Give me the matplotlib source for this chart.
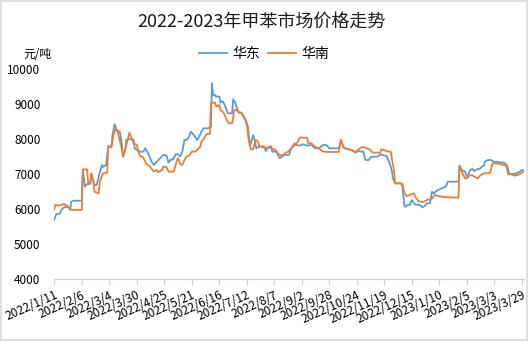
import matplotlib
matplotlib.use("Agg")
import matplotlib.pyplot as plt
import pandas as pd
from matplotlib.patches import Rectangle

plt.rcParams['font.family'] = ['Noto Sans CJK SC', 'DejaVu Sans']

title = "2022-2023年甲苯市场价格走势"
unit = "元/吨"
series_names = ["华东", "华南"]
colors = ["#5B9BD5", "#ED7D31"]

# 华东 (East China) prices, yuan/ton
east_dates = [
    "2022-01-11", "2022-01-13", "2022-01-16", "2022-01-18", "2022-01-21", "2022-01-24",
    "2022-01-26", "2022-01-27", "2022-01-29", "2022-02-06", "2022-02-07", "2022-02-09",
    "2022-02-11", "2022-02-14", "2022-02-15", "2022-02-18", "2022-02-20", "2022-02-22",
    "2022-02-25", "2022-02-26", "2022-03-01", "2022-03-03", "2022-03-06", "2022-03-07",
    "2022-03-09", "2022-03-11", "2022-03-14", "2022-03-16", "2022-03-17", "2022-03-19",
    "2022-03-20", "2022-03-25", "2022-03-27", "2022-03-28", "2022-03-30", "2022-04-02",
    "2022-04-05", "2022-04-07", "2022-04-10", "2022-04-13", "2022-04-15", "2022-04-18",
    "2022-04-21", "2022-04-24", "2022-04-27", "2022-04-29", "2022-05-01", "2022-05-03",
    "2022-05-06", "2022-05-08", "2022-05-10", "2022-05-12", "2022-05-14", "2022-05-16",
    "2022-05-18", "2022-05-20", "2022-05-23", "2022-05-26", "2022-05-28", "2022-05-30",
    "2022-06-01", "2022-06-05", "2022-06-08", "2022-06-09", "2022-06-10", "2022-06-12",
    "2022-06-13", "2022-06-16", "2022-06-17", "2022-06-19", "2022-06-21", "2022-06-24",
    "2022-06-28", "2022-06-29", "2022-07-01", "2022-07-02", "2022-07-04", "2022-07-07",
    "2022-07-09", "2022-07-11", "2022-07-13", "2022-07-15", "2022-07-18", "2022-07-21",
    "2022-07-24", "2022-07-26", "2022-07-28", "2022-07-30", "2022-08-01", "2022-08-04",
    "2022-08-05", "2022-08-09", "2022-08-10", "2022-08-12", "2022-08-14", "2022-08-16",
    "2022-08-19", "2022-08-21", "2022-08-23", "2022-08-26", "2022-08-28", "2022-08-31",
    "2022-09-03", "2022-09-06", "2022-09-08", "2022-09-11", "2022-09-14", "2022-09-18",
    "2022-09-22", "2022-09-25", "2022-09-28", "2022-10-07", "2022-10-09", "2022-10-11",
    "2022-10-12", "2022-10-17", "2022-10-19", "2022-10-23", "2022-10-25", "2022-10-28",
    "2022-10-30", "2022-11-01", "2022-11-04", "2022-11-06", "2022-11-09", "2022-11-13",
    "2022-11-15", "2022-11-17", "2022-11-21", "2022-11-24", "2022-11-26", "2022-11-27",
    "2022-11-29", "2022-12-05", "2022-12-06", "2022-12-08", "2022-12-09", "2022-12-10",
    "2022-12-13", "2022-12-15", "2022-12-17", "2022-12-19", "2022-12-21", "2022-12-23",
    "2022-12-25", "2022-12-28", "2022-12-29", "2023-01-01", "2023-01-03", "2023-01-05",
    "2023-01-06", "2023-01-09", "2023-01-12", "2023-01-16", "2023-01-18", "2023-01-28",
    "2023-01-29", "2023-01-31", "2023-02-03", "2023-02-05", "2023-02-06", "2023-02-08",
    "2023-02-10", "2023-02-12", "2023-02-15", "2023-02-17", "2023-02-19", "2023-02-21",
    "2023-02-22", "2023-02-25", "2023-02-28", "2023-03-02", "2023-03-05", "2023-03-08",
    "2023-03-11", "2023-03-13", "2023-03-15", "2023-03-17", "2023-03-21", "2023-03-24",
    "2023-03-27", "2023-03-29", "2023-03-31",
]
east_prices = [
    5706, 5860, 5860, 5990, 6060, 6060,
    5970, 6210, 6237, 6237, 7114, 6640,
    6714, 6714, 7000, 6686, 6686, 6923,
    7257, 7200, 7257, 7800, 7770, 8114,
    8420, 8257, 8200, 7830, 7494, 7686,
    7971, 8000, 7970, 7734, 7690, 7637,
    7637, 7734, 7571, 7351, 7257, 7351,
    7448, 7543, 7530, 7323, 7410, 7410,
    7570, 7560, 7500, 7637, 7971, 7971,
    8048, 8210, 8114, 7971, 8067, 8210,
    8305, 8305, 8330, 9591, 9257, 9257,
    9210, 9210, 9037, 9086, 8971, 8733,
    8733, 9133, 9037, 8943, 8752, 8752,
    8638, 8543, 8352, 7800, 8114, 7734,
    7790, 7790, 7790, 7657, 7760, 7790,
    7638, 7638, 7562, 7448, 7490, 7543,
    7543, 7550, 7734, 7876, 7830, 7810,
    7850, 7820, 7810, 7840, 7734, 7734,
    7829, 7829, 7734, 7734, 7971, 7780,
    7734, 7700, 7686, 7610, 7660, 7640,
    7640, 7400, 7400, 7476, 7494, 7500,
    7562, 7543, 7514, 7305, 7095, 6877,
    6733, 6733, 6637, 6066, 6066, 6114,
    6114, 6257, 6162, 6114, 6130, 6100,
    6048, 6114, 6162, 6162, 6494, 6440,
    6494, 6543, 6590, 6637, 6780, 6780,
    7238, 7114, 7067, 6923, 6971, 7114,
    7143, 7086, 7143, 7143, 7210, 7238,
    7352, 7400, 7400, 7350, 7350, 7330,
    7330, 7305, 7238, 7000, 7000, 7020,
    7067, 7114, 7090,
]

# 华南 (South China) prices, yuan/ton
south_dates = [
    "2022-01-11", "2022-01-12", "2022-01-16", "2022-01-20", "2022-01-23", "2022-01-26",
    "2022-01-29", "2022-02-06", "2022-02-07", "2022-02-11", "2022-02-12", "2022-02-14",
    "2022-02-15", "2022-02-17", "2022-02-18", "2022-02-22", "2022-02-23", "2022-02-26",
    "2022-03-02", "2022-03-03", "2022-03-06", "2022-03-08", "2022-03-10", "2022-03-12",
    "2022-03-15", "2022-03-17", "2022-03-19", "2022-03-23", "2022-03-25", "2022-03-27",
    "2022-03-30", "2022-03-31", "2022-04-02", "2022-04-05", "2022-04-08", "2022-04-11",
    "2022-04-15", "2022-04-18", "2022-04-19", "2022-04-23", "2022-04-24", "2022-04-27",
    "2022-04-29", "2022-05-04", "2022-05-07", "2022-05-08", "2022-05-10", "2022-05-12",
    "2022-05-14", "2022-05-16", "2022-05-19", "2022-05-21", "2022-05-24", "2022-05-26",
    "2022-05-29", "2022-05-30", "2022-06-01", "2022-06-04", "2022-06-07", "2022-06-08",
    "2022-06-09", "2022-06-12", "2022-06-13", "2022-06-16", "2022-06-17", "2022-06-20",
    "2022-06-21", "2022-06-23", "2022-06-25", "2022-06-28", "2022-06-29", "2022-06-30",
    "2022-07-02", "2022-07-04", "2022-07-07", "2022-07-09", "2022-07-11", "2022-07-12",
    "2022-07-14", "2022-07-16", "2022-07-18", "2022-07-20", "2022-07-22", "2022-07-24",
    "2022-07-27", "2022-07-29", "2022-08-01", "2022-08-04", "2022-08-08", "2022-08-11",
    "2022-08-14", "2022-08-17", "2022-08-20", "2022-08-23", "2022-08-25", "2022-08-28",
    "2022-08-31", "2022-09-07", "2022-09-08", "2022-09-11", "2022-09-14", "2022-09-18",
    "2022-09-22", "2022-09-26", "2022-10-07", "2022-10-09", "2022-10-11", "2022-10-14",
    "2022-10-18", "2022-10-20", "2022-10-22", "2022-10-25", "2022-10-28", "2022-11-01",
    "2022-11-02", "2022-11-05", "2022-11-08", "2022-11-15", "2022-11-16", "2022-11-20",
    "2022-11-23", "2022-11-25", "2022-11-26", "2022-11-28", "2022-11-29", "2022-12-04",
    "2022-12-06", "2022-12-08", "2022-12-10", "2022-12-13", "2022-12-17", "2022-12-18",
    "2022-12-21", "2022-12-23", "2022-12-26", "2022-12-29", "2023-01-01", "2023-01-03",
    "2023-01-06", "2023-01-09", "2023-01-12", "2023-01-18", "2023-01-28", "2023-01-29",
    "2023-01-31", "2023-02-03", "2023-02-05", "2023-02-08", "2023-02-10", "2023-02-12",
    "2023-02-15", "2023-02-17", "2023-02-19", "2023-02-22", "2023-02-25", "2023-02-27",
    "2023-03-01", "2023-03-03", "2023-03-06", "2023-03-09", "2023-03-14", "2023-03-16",
    "2023-03-19", "2023-03-22", "2023-03-25", "2023-03-27", "2023-03-31",
]
south_prices = [
    5991, 6114, 6100, 6143, 6100, 5990,
    5971, 5971, 7134, 7134, 6733, 6750,
    7020, 6771, 6494, 6448, 6780, 7020,
    7040, 7762, 7762, 8114, 8305, 8200,
    7830, 7494, 7686, 8181, 8019, 7876,
    7830, 7686, 7514, 7476, 7286, 7229,
    7067, 7114, 7050, 7114, 7210, 7200,
    7067, 7067, 7400, 7450, 7286, 7257,
    7400, 7494, 7543, 7637, 7637, 7686,
    7780, 7924, 7990, 8143, 8143, 9019,
    9037, 9037, 8924, 8971, 8829, 8752,
    8686, 8543, 8448, 8448, 8590, 8829,
    8829, 8781, 8733, 8638, 8524, 8400,
    7924, 7705, 7705, 7971, 7950, 7780,
    7770, 7760, 7760, 7734, 7686, 7562,
    7524, 7590, 7638, 7734, 7790, 7857,
    8038, 8038, 7876, 7876, 7790, 7730,
    7640, 7630, 7630, 7971, 7780, 7730,
    7686, 7667, 7620, 7686, 7762, 7762,
    7734, 7705, 7610, 7610, 7705, 7667,
    7640, 7638, 7448, 7114, 6733, 6733,
    6714, 6448, 6371, 6400, 6448, 6352,
    6229, 6210, 6200, 6257, 6276, 6305,
    6400, 6371, 6352, 6333, 6324, 7238,
    7067, 6877, 6877, 6971, 6960, 6923,
    6877, 6940, 6990, 7020, 7020, 7040,
    7305, 7305, 7290, 7280, 7238, 6990,
    6990, 6952, 6971, 7000, 7067,
]

# Category axis labels, one every 26 days
tick_dates = [
    "2022-01-11", "2022-02-06", "2022-03-04", "2022-03-30", "2022-04-25", "2022-05-21",
    "2022-06-16", "2022-07-12", "2022-08-07", "2022-09-02", "2022-09-28", "2022-10-24",
    "2022-11-19", "2022-12-15", "2023-01-10", "2023-02-05", "2023-03-03", "2023-03-29",
]
y_ticks = [4000, 5000, 6000, 7000, 8000, 9000, 10000]

east_x = pd.to_datetime(east_dates)
south_x = pd.to_datetime(south_dates)
tick_x = pd.to_datetime(tick_dates)
tick_labels = [f"{d.year}/{d.month}/{d.day}" for d in tick_x]

fig = plt.figure(figsize=(5.28, 3.41), dpi=100)
fig.patch.set_facecolor("white")
fig.patches.append(Rectangle((0.001, 0.002), 0.997, 0.995, transform=fig.transFigure,
                             fill=False, edgecolor="#d9d9d9", linewidth=1.2))

ax = fig.add_axes([0.1028, 0.1818, 0.8898, 0.6159])
ax.plot(east_x, east_prices, color=colors[0], linewidth=1.3, label=series_names[0])
ax.plot(south_x, south_prices, color=colors[1], linewidth=1.3, label=series_names[1])

ax.set_xlim(pd.Timestamp("2022-01-11"), pd.Timestamp("2023-03-31"))
ax.set_ylim(4000, 10000)
ax.set_yticks(y_ticks)
ax.set_yticklabels([str(v) for v in y_ticks], fontsize=8.5, color="#000000")
ax.tick_params(axis="y", length=0, pad=10)

ax.set_xticks(tick_x)
ax.set_xticklabels(tick_labels, rotation=24, ha="right", rotation_mode="anchor",
                   fontsize=8.6, color="#000000")
ax.tick_params(axis="x", length=4, width=0.8, color="#d0d0d0", pad=3)

for side in ["left", "right", "top"]:
    ax.spines[side].set_visible(False)
ax.spines["bottom"].set_color("#d0d0d0")
ax.spines["bottom"].set_linewidth(0.9)
ax.grid(False)

fig.text(0.495, 0.935, title, ha="center", va="center", fontsize=13, color="#1a1a1a")
fig.text(0.097, 0.84, unit, ha="right", va="center", fontsize=8.5, color="#000000")
fig.legend(loc="center", bbox_to_anchor=(0.5, 0.842), ncol=2, frameon=False,
           fontsize=10, handlelength=2.0, handletextpad=0.4, columnspacing=0.6)

fig.savefig("out.png", dpi=100)
